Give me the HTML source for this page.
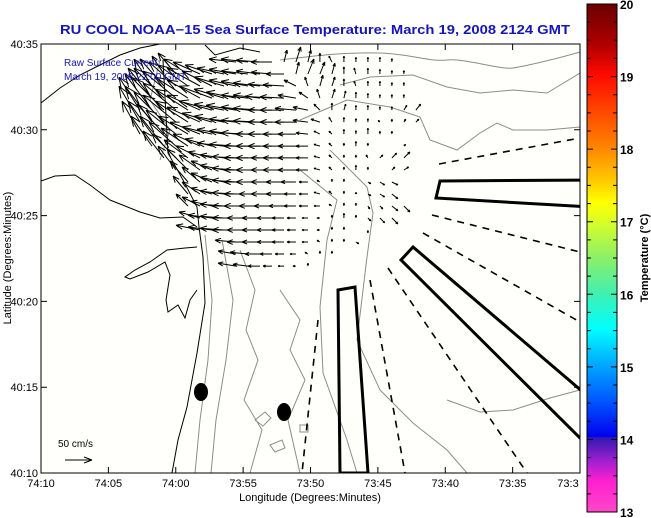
<!DOCTYPE html>
<html><head><meta charset="utf-8"><title>RU COOL SST</title>
<style>
html,body{margin:0;padding:0;background:#fff;}
svg{display:block;font-family:"Liberation Sans",sans-serif;}
</style></head>
<body>
<svg id="chart" width="651" height="518" viewBox="0 0 651 518" xmlns="http://www.w3.org/2000/svg">
<defs>
<linearGradient id="jet" x1="0" y1="0" x2="0" y2="1">
<stop offset="0" stop-color="#6a0000"/>
<stop offset="0.08" stop-color="#b00000"/>
<stop offset="0.14" stop-color="#ff0a00"/>
<stop offset="0.28" stop-color="#ff8200"/>
<stop offset="0.35" stop-color="#ffcc00"/>
<stop offset="0.39" stop-color="#ffff00"/>
<stop offset="0.43" stop-color="#d8ff28"/>
<stop offset="0.5" stop-color="#8cf068"/>
<stop offset="0.57" stop-color="#40f0b0"/>
<stop offset="0.64" stop-color="#00ffff"/>
<stop offset="0.71" stop-color="#00a8ff"/>
<stop offset="0.78" stop-color="#0058ff"/>
<stop offset="0.852" stop-color="#0000ee"/>
<stop offset="0.853" stop-color="#3018b0"/>
<stop offset="0.9" stop-color="#a020d0"/>
<stop offset="0.94" stop-color="#ff20d0"/>
<stop offset="1" stop-color="#ff48c8"/>
</linearGradient>
<clipPath id="plotclip"><rect x="41" y="44" width="539" height="429"/></clipPath>
</defs>
<text x="315" y="34" text-anchor="middle" font-size="12.5" font-weight="bold" fill="#1414c0" textLength="510" lengthAdjust="spacingAndGlyphs">RU COOL  NOAA−15  Sea Surface Temperature:  March 19, 2008 2124 GMT</text>
<rect x="41" y="44" width="539" height="429" fill="#fffffb"/>
<g id="geo" clip-path="url(#plotclip)" fill="none">
<g stroke="#8c8c8c" stroke-width="1">
<path d="M280,60 C320,55 350,52 380,53 S430,62 447,60 S500,70 513,68 S560,58 580,52"/>
<path d="M340,85 L370,77 L413,75 L447,87 L480,93 L513,90 L547,93 L580,73"/>
<path d="M300,120 L347,100 L390,107 L420,117 L430,140 L457,150 L480,133 L497,123 L513,130 L547,130 L580,127"/>
<path d="M330,150 L367,187 L373,213 L367,257 L357,340 L380,390 L413,423 L447,450 L467,473"/>
<path d="M300,170 L337,200 L327,240 L320,307 L323,373 L347,440 L357,473"/>
<path d="M447,400 L480,412 L513,410 L550,398 L580,390"/>
<path d="M205,235 L212,300 L208,360 L200,420 L195,473"/>
<path d="M222,240 L233,300 L226,360 L216,420 L211,473"/>
<path d="M240,250 L255,290 L246,330 L258,360 L244,400 L262,430 L250,473"/>
<path d="M280,290 L300,320 L290,350 L305,380 L288,420 L300,473"/>
<path d="M160,60 L150,100 L170,130 L160,160"/>
<path d="M255,420 l10,-8 l6,6 l-8,8z M270,445 l12,-5 l3,8 l-10,4z M300,425 l8,0 l0,7 l-8,0z"/>
</g>
<g stroke="#000" stroke-width="1">
<path d="M41,103 L60,88 L80,75 L100,65 L120,55 L140,48 L160,44"/>
<path d="M41,181 L55,176 L75,175 L90,185 L110,200 L140,212 L160,218 L183,217 L197,227"/>
<path d="M163,60 L168,153 L183,180 L197,207 L199,227 L203,257 L205,303 L197,353 L187,407 L178,440 L172,473"/>
<path d="M197,247 L185,248 L167,250 L150,262 L135,270 L125,277 L130,279 L148,272 L165,262 L170,275 L166,300 L168,312 L178,305 L185,318 L190,300 L197,290"/>
<path d="M205,45 L215,55 L240,48 L260,52"/>
</g>
<g stroke="#000" stroke-width="1.6" stroke-dasharray="7,6">
<path d="M439,164 L580,138"/>
<path d="M432,215 L580,252"/>
<path d="M423,233 L580,322"/>
<path d="M388,268 L527,473"/>
<path d="M370,280 L405,473"/>
<path d="M318,320 L302,473"/>
</g>
<g stroke="#000" stroke-width="3" fill="none">
<path d="M338,290 L355,287 L368,473 L340,473 Z"/>
<path d="M440,181 L590,180 L590,207 L436,198 Z"/>
<path d="M413,247 L401,260 L590,448 L590,398 Z"/>
</g>
<ellipse cx="201" cy="392" rx="7" ry="9" fill="#000"/>
<ellipse cx="284" cy="412" rx="7" ry="9" fill="#000"/>
<g id="arrows" stroke="#000" stroke-width="1" fill="none"></g>
</g>
<rect x="41" y="44" width="539" height="429" fill="none" stroke="#000" stroke-width="1"/>
<g id="ticks" stroke="#000" stroke-width="1"></g>
<g id="ticklabels" font-size="11" fill="#000"></g>
<text x="64" y="66" font-size="10" fill="#1414c0">Raw Surface Current:</text>
<text x="64" y="80" font-size="10" fill="#1414c0">March 19, 2008 22:00 GMT</text>
<text x="58" y="447" font-size="10" fill="#000">50 cm/s</text>
<g stroke="#000" stroke-width="1"><path d="M65,460 L92,460 M92,460 L84,457 M92,460 L84,463"/></g>
<text x="310" y="501" text-anchor="middle" font-size="11">Longitude (Degrees:Minutes)</text>
<text transform="translate(11,258) rotate(-90)" text-anchor="middle" font-size="11">Latitude (Degrees:Minutes)</text>
<rect x="587" y="4" width="30" height="508" fill="url(#jet)" stroke="#000" stroke-width="1"/>
<g id="cbticks" stroke="#000" stroke-width="1"></g>
<g id="cblabels" font-size="12" font-weight="bold" fill="#000"></g>
<text transform="translate(648,258) rotate(-90)" text-anchor="middle" font-size="11" font-weight="bold">Temperature (°C)</text>
</svg>
<script>
// ---- data ----
const lonTicks = [70, 65, 60, 55, 50, 45, 40, 35, 30]; // minutes west of 73:00
const lonTickLabels = ["74:10","74:05","74:00","73:55","73:50","73:45","73:40","73:35","73:3"];
const latTicks = [35, 30, 25, 20, 15, 10]; // minutes north of 40:00
const latTickLabels = ["40:35","40:30","40:25","40:20","40:15","40:10"];
const cbTicks = [20, 19, 18, 17, 16, 15, 14, 13];
const cbTickLabels = ["20","19","18","17","16","15","14","13"];
// current vector rows: latitude (min above 40:00), first longitude (min west of 73:00)
const rowLat = [33.95,33.25,32.55,31.85,31.15,30.45,29.75,29.05,28.36,27.66,26.96,26.26,25.56,24.86,24.16,23.46,22.76,22.06];
const rowLon0 = [55.53,60.87,61.76,61.76,62.65,62.65,62.65,61.76,60.87,59.98,59.09,59.09,59.09,58.20,58.20,55.53,55.53,55.53];
const colStep = 0.89;
const rowU = [
[-45,-45,-40,-35,5,8,5,0,-5,0,0,0,0,0],
[-20,-30,-40,-45,-45,-45,-45,-45,-40,-35,-30,5,10,8,5,0,-3,0,0,0,0],
[-30,-40,-45,-50,-55,-50,-50,-45,-45,-45,-40,-35,-20,-5,5,5,0,-3,0,0,0,0],
[-40,-50,-55,-55,-55,-55,-50,-50,-45,-45,-45,-40,-30,-15,-5,5,3,0,0,0,0,0],
[-35,-45,-55,-55,-55,-55,-55,-50,-50,-45,-45,-40,-40,-35,-25,-10,0,3,0,0,0,0,5,8],
[-35,-45,-50,-55,-55,-55,-50,-50,-45,-45,-45,-40,-40,-35,-25,-15,-5,0,0,0,-3,0,3,5],
[-30,-40,-45,-50,-50,-50,-50,-45,-45,-45,-40,-40,-35,-30,-20,-10,-5,0,0,0,0,0,0,0],
[-35,-40,-45,-45,-45,-45,-45,-45,-40,-40,-40,-35,-30,-20,-10,-5,0,0,0,0,0,3],
[-35,-40,-40,-40,-40,-40,-40,-40,-40,-35,-35,-30,-20,-10,-5,0,0,-3,5,8,10],
[-30,-35,-35,-35,-40,-40,-40,-40,-35,-35,-30,-20,-10,-5,0,0,0,0,5,8],
[-30,-30,-35,-40,-40,-40,-40,-35,-30,-25,-15,-5,0,0,0,5,8,10,0],
[-25,-30,-35,-40,-40,-40,-35,-35,-30,-20,-15,-10,-5,0,0,5,8,10],
[-20,-30,-35,-40,-40,-40,-35,-30,-25,-20,-15,-10,-5,0,0,3,5,10,10],
[-35,-40,-40,-40,-35,-30,-25,-20,-15,-10,-5,0,0,0,5,8,10],
[-40,-40,-40,-40,-35,-30,-25,-20,-15,-10,-5,0,0,0,0],
[-35,-35,-30,-25,-20,-15,-10,-5,0,0,5],
[-30,-30,-25,-20,-15,-10,-5,0,0],
[-30,-25,-20,-15,-10,-5,0]
];
const rowV = [
[5,5,3,0,20,25,20,15,10,10,8,8,8,6],
[30,35,25,20,15,10,8,5,5,3,0,20,25,20,18,12,10,10,8,6,6],
[45,45,40,35,30,25,15,10,8,5,3,2,10,15,18,15,12,8,8,8,6,6],
[50,50,45,35,30,20,15,10,5,5,3,2,5,10,15,15,12,10,8,6,6,6],
[55,60,55,45,35,25,15,10,8,5,3,0,0,3,5,10,12,10,8,8,6,6,8,10],
[60,60,50,45,35,25,15,10,5,3,2,0,0,0,3,5,8,8,6,6,3,5,5,5],
[55,55,50,40,30,20,12,8,5,2,0,0,0,0,2,5,5,8,6,10,5,5,0,0],
[50,50,40,30,20,12,5,3,0,0,0,0,0,0,3,5,5,8,5,0,0,3],
[45,40,30,20,10,5,2,0,0,0,0,0,0,3,5,5,5,5,5,8,10],
[40,35,25,15,8,3,0,0,0,0,0,0,3,5,5,8,5,0,5,5],
[35,25,15,8,3,0,0,0,0,0,0,3,5,5,0,-3,-5,-5,0],
[30,20,10,5,2,0,0,0,0,0,0,3,5,5,3,-3,-5,-8],
[20,15,8,3,0,0,0,0,0,0,0,0,3,5,5,-5,-5,-8,-10],
[10,5,3,0,0,0,0,0,0,0,0,5,8,5,-5,-8,-10],
[8,5,3,0,0,0,0,0,0,0,0,5,5,0,-5],
[3,0,0,0,0,0,0,3,5,5,-3],
[5,3,0,0,0,0,3,5,5],
[5,3,0,0,0,0,5]
];
// ---- axes ----
const xOf = lon => 41 + (70 - lon) * 13.475;
const yOf = lat => 473 - (lat - 10) * 17.16;
const cbY = t => 512 - (t - 13) * (508 / 7);
const pxPerCms = 0.6;
const NS = "http://www.w3.org/2000/svg";
function mk(tag, parent, attrs){const e=document.createElementNS(NS,tag);for(const k in attrs)e.setAttribute(k,attrs[k]);parent.appendChild(e);return e;}
const tk=document.getElementById('ticks'), tl=document.getElementById('ticklabels');
lonTicks.forEach((v,i)=>{
  const x=xOf(v);
  const t=mk('path',tk,{d:`M${x},473 v-6 M${x},44 v6`});
  
  
  const l=mk('text',tl,{x:(i===lonTicks.length-1?x-12:x),y:487,'text-anchor':'middle'});
  
  
  l.textContent=lonTickLabels[i];
});
latTicks.forEach((v,i)=>{
  const y=yOf(v);
  const t=mk('path',tk,{d:`M41,${y} h6 M580,${y} h-6`});
  
  
  const l=mk('text',tl,{x:38,y:y+4,'text-anchor':'end'});
  
  
  l.textContent=latTickLabels[i];
});
const cbt=document.getElementById('cbticks'), cbl=document.getElementById('cblabels');
for(let k=0;k<=28;k++){
  const y=cbY(13+k*0.25);
  const len=(k%4===0)?6:4;
  const t=mk('path',cbt,{d:`M587,${y} h${len} M617,${y} h-${len}`});
  
  
}
cbTicks.forEach((v,i)=>{
  const y=cbY(v);
  const l=mk('text',cbl,{x:620,y:y+5});
  
  
  l.textContent=cbTickLabels[i];
});
// ---- vectors ----
const ag=document.getElementById('arrows');
rowLat.forEach((lat,r)=>{
  rowU[r].forEach((u,c)=>{
    const v=rowV[r][c];
    const x0=xOf(rowLon0[r]-c*colStep), y0=yOf(lat);
    const dx=u*pxPerCms, dy=-v*pxPerCms;
    const L=Math.hypot(dx,dy);
    if(L<0.5)return;
    const x1=x0+dx,y1=y0+dy;
    const ang=Math.atan2(dy,dx), h=Math.max(2,L*0.3), a=0.38;
    const d=`M${x0.toFixed(1)},${y0.toFixed(1)} L${x1.toFixed(1)},${y1.toFixed(1)} M${x1.toFixed(1)},${y1.toFixed(1)} L${(x1-h*Math.cos(ang-a)).toFixed(1)},${(y1-h*Math.sin(ang-a)).toFixed(1)} M${x1.toFixed(1)},${y1.toFixed(1)} L${(x1-h*Math.cos(ang+a)).toFixed(1)},${(y1-h*Math.sin(ang+a)).toFixed(1)}`;
    const p=mk('path',ag,{d:d});
    
    
  });
});
</script>
</body></html>
